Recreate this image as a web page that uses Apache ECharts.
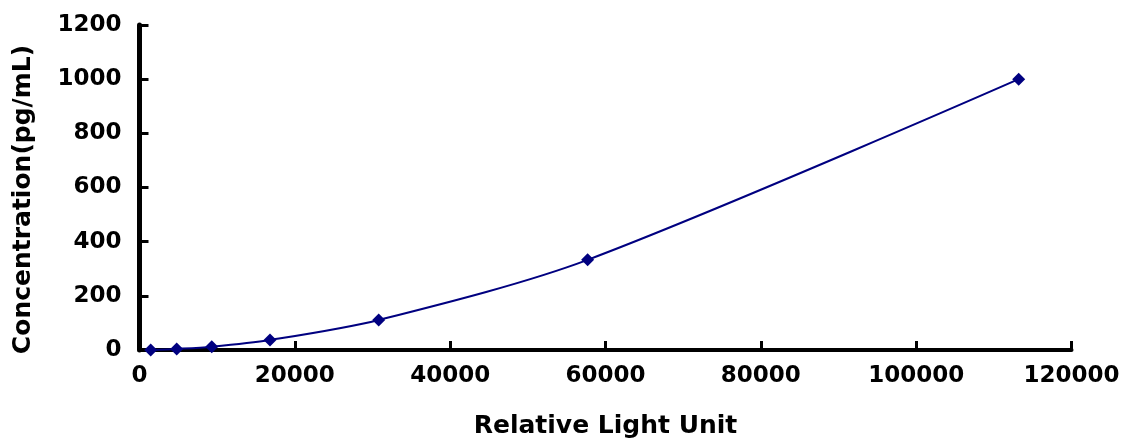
<!DOCTYPE html>
<html>
<head>
<meta charset="utf-8">
<script src="https://cdn.jsdelivr.net/npm/echarts@6/dist/echarts.min.js"></script>
<style>
html,body{margin:0;padding:0;background:#fff;}
#chart{width:1129px;height:444px;}
</style>
</head>
<body>
<div id="chart"></div>
<script>
var rluValues = [1440, 4790, 9300, 16800, 30800, 57700, 113200];
var concValues = [0, 4.1, 12.3, 37, 111, 333, 1000];
var xTitle = 'Relative Light Unit';
var yTitle = 'Concentration(pg/mL)';

var points = rluValues.map(function (x, i) { return [x, concValues[i]]; });
function plain(v) { return String(v); }

var fontFam = '"DejaVu Sans", sans-serif';
var chart = echarts.init(document.getElementById('chart'));
chart.setOption({
  backgroundColor: '#ffffff',
  animation: false,
  grid: { left: 139.5, right: 57.5, top: 25, bottom: 92.3, containLabel: false },
  xAxis: {
    type: 'value', min: 0, max: 120000, interval: 20000,
    name: xTitle, nameLocation: 'middle', nameGap: 64,
    nameTextStyle: { fontFamily: fontFam, fontWeight: 'bold', fontSize: 25, color: '#000' },
    axisLine: { show: true, onZero: false, lineStyle: { color: '#000', width: 4 } },
    axisTick: { show: true, inside: true, length: 9, lineStyle: { color: '#000', width: 3 } },
    axisLabel: { fontFamily: fontFam, fontWeight: 'bold', fontSize: 23, color: '#000', margin: 15, formatter: plain },
    splitLine: { show: false }
  },
  yAxis: {
    type: 'value', min: 0, max: 1200, interval: 200,
    name: yTitle, nameLocation: 'middle', nameGap: 104,
    nameTextStyle: { fontFamily: fontFam, fontWeight: 'bold', fontSize: 25, color: '#000', padding: [0, 24, 0, 0] },
    axisLine: { show: true, onZero: false, lineStyle: { color: '#000', width: 5 } },
    axisTick: { show: true, inside: true, length: 9, lineStyle: { color: '#000', width: 3 } },
    axisLabel: { fontFamily: fontFam, fontWeight: 'bold', fontSize: 23, color: '#000', margin: 18, formatter: plain },
    splitLine: { show: false }
  },
  series: [{
    type: 'line',
    data: points,
    smooth: 0.3,
    symbol: 'diamond',
    symbolSize: 13,
    showAllSymbol: true,
    lineStyle: { color: '#000080', width: 2 },
    itemStyle: { color: '#000080' }
  }]
});
</script>
</body>
</html>
